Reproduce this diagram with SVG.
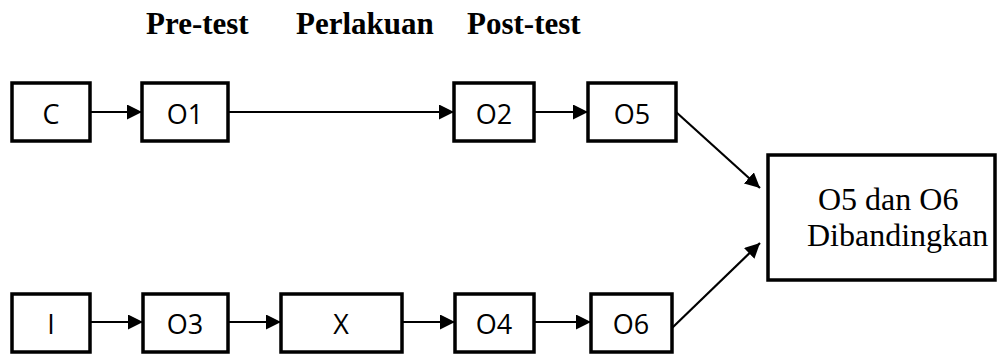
<svg xmlns="http://www.w3.org/2000/svg" width="997" height="354" viewBox="0 0 997 354">
<style>
.box{fill:#fff;stroke:#000;stroke-width:3.5}
.lbl{font-family:"Open Sans","DejaVu Sans",sans-serif;font-size:27px;text-anchor:middle;fill:#000}
.hdr{font-family:"Liberation Serif","Times New Roman",serif;font-size:31px;font-weight:bold;fill:#000}
.big{font-family:"Liberation Serif","Times New Roman",serif;font-size:32px;fill:#000}
.con{stroke:#000;stroke-width:2.2;fill:none;marker-end:url(#arr)}
</style>
<defs>
<marker id="arr" markerUnits="userSpaceOnUse" markerWidth="15" markerHeight="15" refX="15" refY="7.5" orient="auto">
<path d="M0,0 L15,7.5 L0,15 z" fill="#000"/>
</marker>
</defs>
<g id="headers">
<text class="hdr" x="146" y="34">Pre-test</text>
<text class="hdr" x="296" y="34">Perlakuan</text>
<text class="hdr" x="467" y="34">Post-test</text>
</g>
<g id="connectors">
<line class="con" x1="90" y1="112" x2="142" y2="112"/>
<line class="con" x1="228" y1="112" x2="454" y2="112"/>
<line class="con" x1="534" y1="112" x2="588" y2="112"/>
<line class="con" x1="676" y1="112" x2="760" y2="188"/>
<line class="con" x1="90" y1="322" x2="143" y2="322"/>
<line class="con" x1="228" y1="322" x2="281" y2="322"/>
<line class="con" x1="402" y1="322" x2="455" y2="322"/>
<line class="con" x1="534" y1="322" x2="591" y2="322"/>
<line class="con" x1="672" y1="328" x2="760" y2="243"/>
</g>
<g id="node-C"><rect class="box" x="12" y="83" width="78" height="58"/><text class="lbl" x="51" y="124">C</text></g>
<g id="node-O1"><rect class="box" x="142" y="83" width="86" height="58"/><text class="lbl" x="185" y="124">O1</text></g>
<g id="node-O2"><rect class="box" x="454" y="83" width="80" height="58"/><text class="lbl" x="494" y="124">O2</text></g>
<g id="node-O5"><rect class="box" x="588" y="83" width="88" height="58"/><text class="lbl" x="632" y="124">O5</text></g>
<g id="node-I"><rect class="box" x="12" y="294" width="78" height="58"/><text class="lbl" x="51" y="334">I</text></g>
<g id="node-O3"><rect class="box" x="143" y="294" width="85" height="58"/><text class="lbl" x="185" y="334">O3</text></g>
<g id="node-X"><rect class="box" x="281" y="294" width="121" height="58"/><text class="lbl" x="341" y="334">X</text></g>
<g id="node-O4"><rect class="box" x="455" y="294" width="79" height="58"/><text class="lbl" x="494" y="334">O4</text></g>
<g id="node-O6"><rect class="box" x="591" y="294" width="81" height="58"/><text class="lbl" x="631" y="334">O6</text></g>
<g id="node-result"><rect class="box" x="768" y="155" width="227" height="125"/>
<text class="big" x="818" y="210">O5 dan O6</text>
<text class="big" x="807" y="246">Dibandingkan</text></g>
</svg>
